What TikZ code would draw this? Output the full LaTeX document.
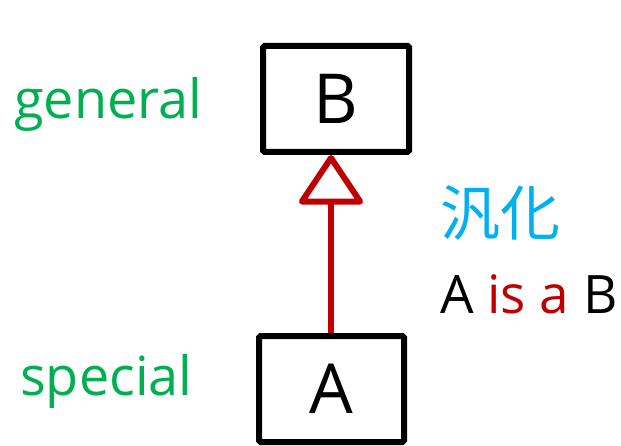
\documentclass[tikz,border=0pt]{standalone}
\usepackage{fontspec}
\setmainfont{Open Sans}
\newfontfamily\cjkfont{Noto Sans CJK JP}
\usetikzlibrary{arrows.meta}
\definecolor{umlgreen}{HTML}{00B050}
\definecolor{umlcyan}{HTML}{00B0F0}
\definecolor{umlred}{HTML}{C00000}
\tikzset{
  classbox/.style={draw=black, line width=6pt, rounded corners=1.5pt, fill=white,
    inner sep=0pt, font=\fontsize{69}{80}\selectfont},
  generalize/.style={draw=umlred, line width=6pt,
    -{Triangle[open, length=52pt, width=68pt, round]}},
  rolelabel/.style={text=umlgreen, inner sep=0pt, anchor=base west,
    font=\fontsize{54}{64}\selectfont},
  notelabel/.style={inner sep=0pt, anchor=base west,
    font=\fontsize{53}{62}\selectfont},
}
\begin{document}
\begin{tikzpicture}[x=1pt, y=-1pt]
  \useasboundingbox (0,0) rectangle (621,446);
  % the two classes
  \node[classbox, minimum width=146pt, minimum height=106pt] (B) at (336,99) {B};
  \node[classbox, minimum width=145pt, minimum height=106pt] (A) at (331.5,389) {A};
  % generalization from A up to B
  \draw[generalize] (A.north -| 331,0) -- (B.south -| 331,0);
  % side labels
  \node[rolelabel] (gen) at (14,119) {general};
  \node[rolelabel] (spe) at (20,395) {special};
  \node[inner sep=0pt, text=umlcyan, font=\cjkfont\fontsize{60}{70}\selectfont] (kanji) at (500,213) {汎化};
  \node[notelabel] (isa) at (440,313) {A \textcolor{umlred}{is a} B};
\end{tikzpicture}
\end{document}
